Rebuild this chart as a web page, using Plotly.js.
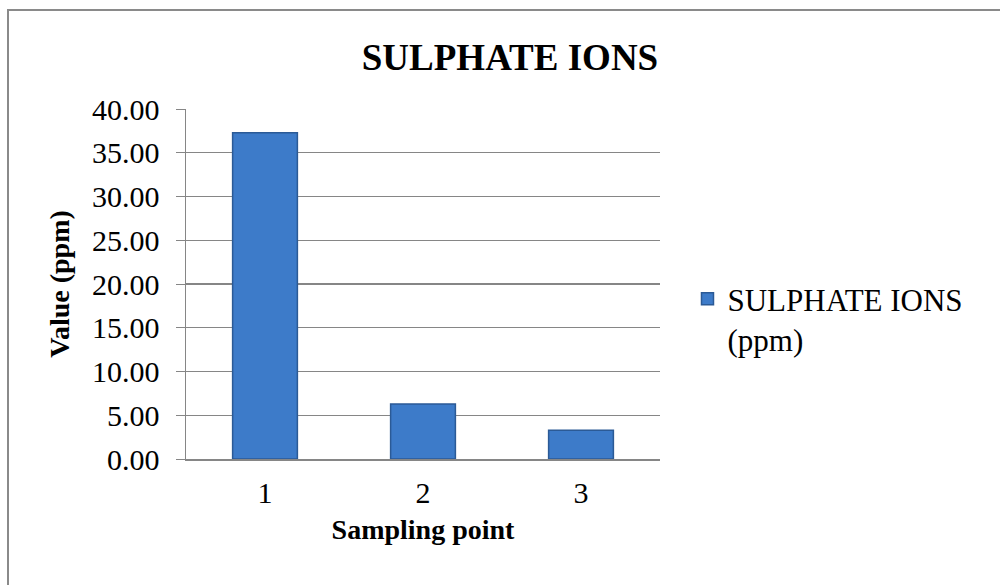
<!DOCTYPE html>
<html>
<head>
<meta charset="utf-8">
<script src="https://cdn.plot.ly/plotly-3.0.1.min.js"></script>
<style>
  html, body { margin: 0; padding: 0; background: #ffffff; }
  #wrap { position: relative; width: 1000px; height: 585px; overflow: hidden; }
  #chart { width: 1000px; height: 585px; }
  #frame {
    position: absolute; left: 7px; top: 9px; width: 1100px; height: 700px;
    border-left: 2px solid #8a8a8a; border-top: 2px solid #8a8a8a;
    pointer-events: none;
  }
</style>
</head>
<body>
<div id="wrap">
  <div id="chart"></div>
  <div id="frame"></div>
</div>
<script>
// Sulphate concentration at each sampling point
const samplingPoints = ['1', '2', '3'];
const sulphatePpm = [37.3, 6.3, 3.3];
const seriesName = 'SULPHATE IONS<br>(ppm)';
const yTicks = [0, 5, 10, 15, 20, 25, 30, 35, 40];

const serif = "'Liberation Serif', 'Times New Roman', serif";

const trace = {
  type: 'bar',
  x: samplingPoints,
  y: sulphatePpm,
  name: seriesName,
  marker: {
    color: '#3d7bc9',
    line: { color: '#2b5a96', width: 1.5 }
  },
  showlegend: true
};

const layout = {
  width: 1000,
  height: 585,
  paper_bgcolor: '#ffffff',
  plot_bgcolor: '#ffffff',
  font: { family: serif, color: '#000000' },
  margin: { l: 186, r: 340, t: 109, b: 126 },
  bargap: 0.59,
  title: {
    text: '<b>SULPHATE IONS</b>',
    font: { family: serif, size: 37, color: '#000000' },
    x: 0.51, xref: 'container', xanchor: 'center',
    y: 0.903, yref: 'container', yanchor: 'middle'
  },
  xaxis: {
    type: 'category',
    showgrid: false,
    showline: true,
    linecolor: '#868686',
    linewidth: 1.5,
    ticks: '',
    ticklabelstandoff: 6,
    tickfont: { family: serif, size: 30, color: '#000000' },
    title: {
      text: '<b>Sampling point</b>',
      font: { family: serif, size: 28, color: '#000000' },
      standoff: 12
    }
  },
  yaxis: {
    range: [0, 40],
    tickvals: yTicks,
    tickformat: '.2f',
    showgrid: true,
    gridcolor: '#868686',
    gridwidth: 1.3,
    zeroline: false,
    showline: true,
    linecolor: '#868686',
    linewidth: 1.5,
    ticks: 'outside',
    ticklen: 9,
    tickcolor: '#868686',
    ticklabelstandoff: 10,
    tickfont: { family: serif, size: 30, color: '#000000' },
    title: {
      text: '<b>Value (ppm)</b>',
      font: { family: serif, size: 28, color: '#000000' },
      standoff: 14
    }
  },
  legend: {
    x: 1.058, xanchor: 'left',
    y: 0.40, yanchor: 'middle',
    valign: 'top',
    font: { family: serif, size: 31, color: '#000000' },
    bgcolor: 'rgba(0,0,0,0)',
    itemwidth: 30
  }
};

Plotly.newPlot('chart', [trace], layout, { displayModeBar: false, staticPlot: true });
</script>
</body>
</html>
